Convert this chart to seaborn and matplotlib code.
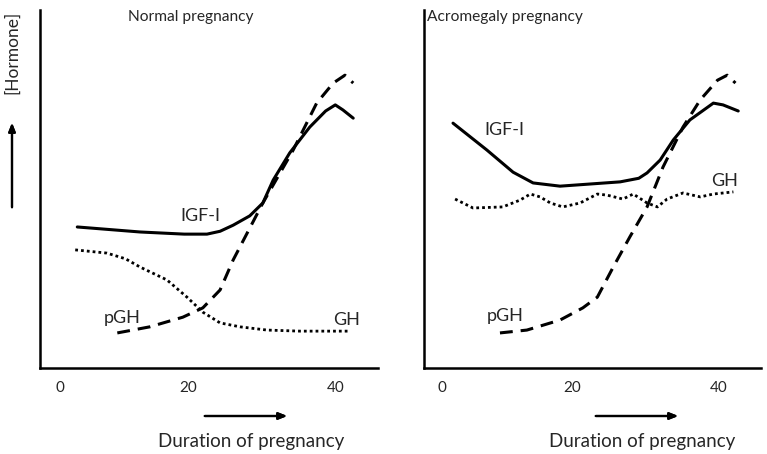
import pandas as pd
import seaborn as sns
import matplotlib.pyplot as plt

sns.set_style("white")
plt.rcParams['font.family'] = ['Lato', 'DejaVu Sans']

# week of pregnancy (x) and relative hormone level (y, 0-100)
normal_igf_x = [2.5, 11.6, 18.0, 21.3, 23.2, 25.1, 27.5, 29.4, 30.9, 33.3, 36.2, 38.5, 39.9, 41.0, 42.5]
normal_igf_y = [39.4, 38.0, 37.4, 37.4, 38.2, 39.9, 42.5, 46.1, 52.5, 60.1, 67.3, 71.8, 73.5, 72.1, 69.8]

normal_gh_x = [2.2, 6.8, 9.5, 11.6, 15.5, 18.4, 20.7, 23.2, 26.1, 30.0, 34.8, 42.0]
normal_gh_y = [33.0, 32.1, 30.5, 28.2, 24.6, 19.8, 15.6, 12.6, 11.5, 10.6, 10.3, 10.3]

normal_pgh_x = [8.3, 13.0, 17.8, 20.7, 23.2, 25.1, 29.4, 33.8, 37.2, 39.6, 41.3, 42.5]
normal_pgh_y = [9.8, 11.5, 14.2, 16.8, 21.8, 30.2, 46.1, 60.9, 74.0, 79.6, 81.8, 79.6]

acro_igf_x = [1.6, 6.5, 10.3, 13.2, 17.1, 25.8, 28.5, 29.7, 31.6, 33.5, 35.9, 39.3, 40.7, 42.9]
acro_igf_y = [68.4, 60.9, 54.7, 51.7, 50.8, 52.0, 53.0, 54.5, 58.1, 63.7, 69.3, 74.0, 73.5, 71.8]

acro_gh_x = [1.9, 4.5, 8.8, 11.3, 12.8, 14.2, 15.7, 17.5, 20.0, 22.5, 23.9, 26.2,
             27.7, 29.7, 31.2, 32.6, 34.9, 37.4, 39.3, 42.2]
acro_gh_y = [47.2, 44.7, 45.0, 46.9, 48.6, 47.8, 46.1, 45.0, 46.1, 48.6, 48.3, 47.2,
             48.6, 46.1, 45.0, 47.2, 48.9, 47.8, 48.6, 49.2]

acro_pgh_x = [8.4, 12.3, 17.1, 20.4, 22.5, 24.8, 27.2, 29.7, 32.0, 34.9, 37.4, 39.9, 41.3, 42.5]
acro_pgh_y = [9.8, 10.6, 13.4, 16.8, 19.8, 28.2, 36.6, 45.0, 56.1, 67.3, 74.9, 80.4, 81.8, 79.6]

tick_labels = ["0", "20", "40"]

solid = "-"
dashed = (0, (4.2, 2.6))
dotted = (0, (1, 1.1))


def draw_panel(ax, curves, labels, title, title_x, tick_pos):
    for xs, ys, ls, lw in curves:
        sns.lineplot(x=xs, y=ys, ax=ax, color="black", linestyle=ls,
                     linewidth=lw, sort=False, estimator=None)
    for txt, lx, ly in labels:
        ax.text(lx, ly, txt, ha="center", va="center", fontsize=13)
    ax.text(title_x, 1.0, title, transform=ax.transAxes, ha="left", va="top",
            fontsize=11.2)
    ax.set_ylim(0, 100)
    ax.set_yticks([])
    ax.set_xticks(tick_pos)
    ax.set_xticklabels(tick_labels, fontsize=11)
    ax.tick_params(axis="x", length=0, pad=9)
    for s in ["top", "right"]:
        ax.spines[s].set_visible(False)
    for s in ["left", "bottom"]:
        ax.spines[s].set_linewidth(1.8)
        ax.spines[s].set_color("black")
    ax.set_xlabel("")
    ax.set_ylabel("")


fig = plt.figure(figsize=(7.67, 4.54), dpi=100)
ax1 = fig.add_axes([0.0522, 0.1894, 0.4407, 0.7885])
ax2 = fig.add_axes([0.5528, 0.1894, 0.4394, 0.7885])

draw_panel(ax1,
           [(normal_gh_x, normal_gh_y, dotted, 2.0),
            (normal_pgh_x, normal_pgh_y, dashed, 2.2),
            (normal_igf_x, normal_igf_y, solid, 2.2)],
           [("IGF-I", 20.3, 42.5), ("pGH", 9.0, 14.0), ("GH", 41.6, 13.4)],
           "Normal pregnancy", 0.26, [0, 18.6, 40])
ax1.set_xlim(-2.9, 46.1)

draw_panel(ax2,
           [(acro_gh_x, acro_gh_y, dotted, 2.0),
            (acro_pgh_x, acro_pgh_y, dashed, 2.2),
            (acro_igf_x, acro_igf_y, solid, 2.2)],
           [("IGF-I", 9.0, 66.5), ("pGH", 9.1, 14.5), ("GH", 40.9, 52.2)],
           "Acromegaly pregnancy", 0.01, [0, 18.8, 40])
ax2.set_xlim(-2.6, 46.2)

# axis captions and arrows
W, H = 767, 454
fig.text(251 / W, 1 - 441 / H, "Duration of pregnancy", ha="center", va="center", fontsize=13.5)
fig.text(642 / W, 1 - 441 / H, "Duration of pregnancy", ha="center", va="center", fontsize=13.5)
fig.text(12 / W, 1 - 52 / H, "[Hormone]", ha="center", va="center", rotation=90, fontsize=12.5)

arrow = dict(arrowstyle="-|>,head_length=0.5,head_width=0.2", color="black", lw=1.6)
fig.add_artist(plt.annotate("", xy=(290 / W, 1 - 416 / H), xytext=(202 / W, 1 - 416 / H),
                            xycoords="figure fraction", arrowprops=arrow))
fig.add_artist(plt.annotate("", xy=(681 / W, 1 - 416 / H), xytext=(593 / W, 1 - 416 / H),
                            xycoords="figure fraction", arrowprops=arrow))
fig.add_artist(plt.annotate("", xy=(12 / W, 1 - 120 / H), xytext=(12 / W, 1 - 210 / H),
                            xycoords="figure fraction", arrowprops=arrow))

fig.savefig("out.png", dpi=100)
